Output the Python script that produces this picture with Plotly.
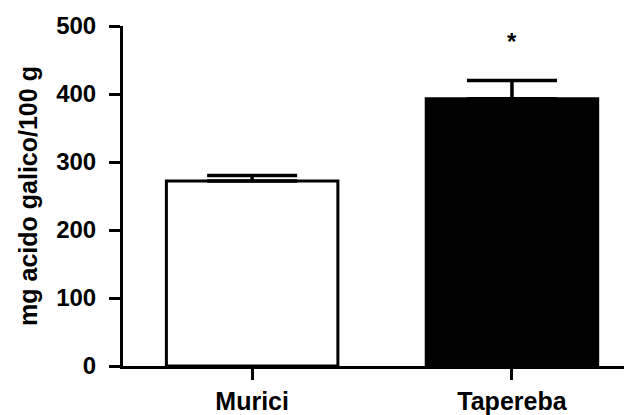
import plotly.graph_objects as go

categories = ["Murici", "Tapereba"]
values = [272, 393]
errors = [8, 27]
fill_colors = ["white", "black"]
y_ticks = [0, 100, 200, 300, 400, 500]
y_title = "mg acido galico/100 g"
significance = ["", "*"]

font_family = "Liberation Sans, Arial, sans-serif"

fig = go.Figure()
fig.add_trace(go.Bar(
    x=categories,
    y=values,
    width=0.66,
    marker=dict(color=fill_colors, line=dict(color="black", width=3)),
    error_y=dict(type="data", array=errors, arrayminus=[0, 0], symmetric=False,
                 color="black", thickness=3.5, width=45),
    showlegend=False,
))

for cat, v, e, s in zip(categories, values, errors, significance):
    if s:
        fig.add_annotation(x=cat, y=v + e + 57, text=f"<b>{s}</b>", showarrow=False,
                           font=dict(size=24, color="black", family=font_family))

# the page body adds an 8px margin, so the figure is sized to fit the window
fig.update_layout(
    width=624, height=407,
    margin=dict(l=115, r=0, t=18, b=46),
    paper_bgcolor="white", plot_bgcolor="white",
    font=dict(family=font_family, color="black"),
)
fig.update_xaxes(
    range=[-0.497, 1.462],
    showline=True, linecolor="black", linewidth=3,
    ticks="outside", ticklen=11, tickwidth=3, tickcolor="black",
    tickfont=dict(size=25, family=font_family),
    tickvals=categories, ticktext=[f"<b>{c}</b>" for c in categories],
    showgrid=False, zeroline=False,
)
fig.update_yaxes(
    range=[0, 500],
    showline=True, linecolor="black", linewidth=3,
    ticks="outside", ticklen=11, tickwidth=3, tickcolor="black",
    tickvals=y_ticks, ticktext=[f"<b>{t}</b>" for t in y_ticks],
    tickfont=dict(size=24, family=font_family),
    ticklabelstandoff=8,
    title=dict(text=f"<b>{y_title}</b>", font=dict(size=25, family=font_family), standoff=12),
    showgrid=False, zeroline=False,
)

fig.write_html("out.html")
